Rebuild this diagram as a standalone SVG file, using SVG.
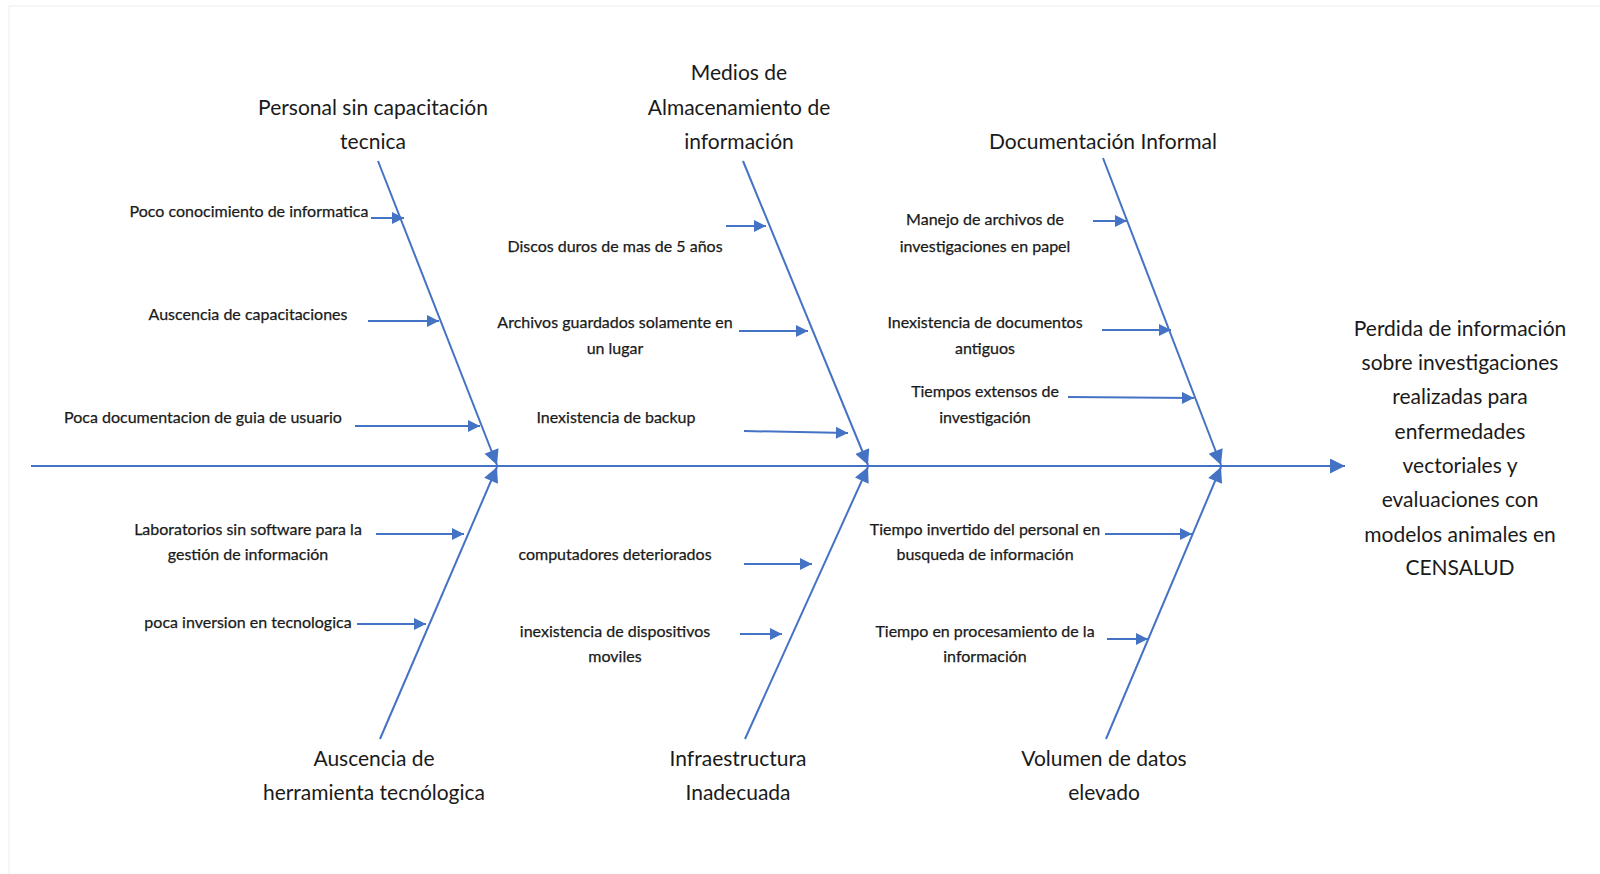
<svg xmlns="http://www.w3.org/2000/svg" width="1600" height="874" viewBox="0 0 1600 874">
  <style>
    .bg { fill: #ffffff; }
    .frame { fill: none; stroke: #f4f4f4; stroke-width: 1.5; }
    .spine { stroke: #4472C4; stroke-width: 2; fill: none; marker-end: url(#headBig); }
    .bone { stroke: #4472C4; stroke-width: 2; fill: none; marker-end: url(#headBig); }
    .sub { stroke: #4472C4; stroke-width: 2; fill: none; marker-end: url(#headSmall); }
    text { font-family: Lato, "Open Sans", "Liberation Sans", sans-serif; fill: #1a1a1a; text-anchor: middle; }
    .cat { font-size: 21px; }
    .cause { font-size: 16px; stroke: #1a1a1a; stroke-width: 0.25; }
    .effect { font-size: 21px; }
  </style>
  <defs>
    <marker id="headBig" viewBox="0 0 10 10" refX="10" refY="5" markerWidth="19" markerHeight="15" markerUnits="userSpaceOnUse" orient="auto">
      <path d="M0,0 L10,5 L0,10 z" fill="#4472C4"/>
    </marker>
    <marker id="headSmall" viewBox="0 0 10 10" refX="10" refY="5" markerWidth="13" markerHeight="12" markerUnits="userSpaceOnUse" orient="auto">
      <path d="M0,0 L10,5 L0,10 z" fill="#4472C4"/>
    </marker>
  </defs>

  <rect class="bg" x="0" y="0" width="1600" height="874"/>
  <rect class="frame" x="9" y="6" width="1600" height="880"/>

  <!-- spine, main bones and cause arrows -->
  <g id="connectors">
    <line class="spine" x1="31" y1="466" x2="1345" y2="466"/>

    <line class="bone" x1="378" y1="161" x2="497" y2="465"/>
    <line class="bone" x1="743" y1="161" x2="868" y2="465"/>
    <line class="bone" x1="1103" y1="158" x2="1221" y2="465"/>
    <line class="bone" x1="380" y1="739" x2="497" y2="467"/>
    <line class="bone" x1="745" y1="739" x2="868" y2="467"/>
    <line class="bone" x1="1106" y1="739" x2="1221" y2="467"/>

    <line class="sub" x1="371" y1="218" x2="404" y2="218"/>
    <line class="sub" x1="368" y1="321" x2="439" y2="321"/>
    <line class="sub" x1="355" y1="426" x2="480" y2="426"/>

    <line class="sub" x1="726" y1="226" x2="766" y2="226"/>
    <line class="sub" x1="739" y1="331" x2="808" y2="331"/>
    <line class="sub" x1="744" y1="431" x2="848" y2="433"/>

    <line class="sub" x1="1093" y1="221" x2="1127" y2="221"/>
    <line class="sub" x1="1102" y1="330" x2="1171" y2="330"/>
    <line class="sub" x1="1068" y1="397" x2="1194" y2="398"/>

    <line class="sub" x1="376" y1="534" x2="464" y2="534"/>
    <line class="sub" x1="357" y1="624" x2="426" y2="624"/>

    <line class="sub" x1="744" y1="564" x2="812" y2="564"/>
    <line class="sub" x1="740" y1="634" x2="782" y2="634"/>

    <line class="sub" x1="1105" y1="534" x2="1192" y2="534"/>
    <line class="sub" x1="1107" y1="639" x2="1148" y2="639"/>
  </g>

  <!-- category: staff without training -->
  <g id="cat-personal">
    <text class="cat" x="373" y="115">Personal sin capacitación</text>
    <text class="cat" x="373" y="149">tecnica</text>
    <text class="cause" x="249" y="217">Poco conocimiento de informatica</text>
    <text class="cause" x="248" y="320">Auscencia de capacitaciones</text>
    <text class="cause" x="203" y="423">Poca documentacion de guia de usuario</text>
  </g>

  <!-- category: storage media -->
  <g id="cat-medios">
    <text class="cat" x="739" y="80">Medios de</text>
    <text class="cat" x="739" y="115">Almacenamiento de</text>
    <text class="cat" x="739" y="149">información</text>
    <text class="cause" x="615" y="252">Discos duros de mas de 5 años</text>
    <text class="cause" x="615" y="328">Archivos guardados solamente en</text>
    <text class="cause" x="615" y="354">un lugar</text>
    <text class="cause" x="616" y="423">Inexistencia de backup</text>
  </g>

  <!-- category: informal documentation -->
  <g id="cat-documentacion">
    <text class="cat" x="1103" y="149">Documentación Informal</text>
    <text class="cause" x="985" y="225">Manejo de archivos de</text>
    <text class="cause" x="985" y="252">investigaciones en papel</text>
    <text class="cause" x="985" y="328">Inexistencia de documentos</text>
    <text class="cause" x="985" y="354">antiguos</text>
    <text class="cause" x="985" y="397">Tiempos extensos de</text>
    <text class="cause" x="985" y="423">investigación</text>
  </g>

  <!-- category: missing technology tools -->
  <g id="cat-herramienta">
    <text class="cat" x="374" y="766">Auscencia de</text>
    <text class="cat" x="374" y="800">herramienta tecnólogica</text>
    <text class="cause" x="248" y="535">Laboratorios sin software para la</text>
    <text class="cause" x="248" y="560">gestión de información</text>
    <text class="cause" x="248" y="628">poca inversion en tecnologica</text>
  </g>

  <!-- category: infrastructure -->
  <g id="cat-infraestructura">
    <text class="cat" x="738" y="766">Infraestructura</text>
    <text class="cat" x="738" y="800">Inadecuada</text>
    <text class="cause" x="615" y="560">computadores deteriorados</text>
    <text class="cause" x="615" y="637">inexistencia de dispositivos</text>
    <text class="cause" x="615" y="662">moviles</text>
  </g>

  <!-- category: data volume -->
  <g id="cat-volumen">
    <text class="cat" x="1104" y="766">Volumen de datos</text>
    <text class="cat" x="1104" y="800">elevado</text>
    <text class="cause" x="985" y="535">Tiempo invertido del personal en</text>
    <text class="cause" x="985" y="560">busqueda de información</text>
    <text class="cause" x="985" y="637">Tiempo en procesamiento de la</text>
    <text class="cause" x="985" y="662">información</text>
  </g>

  <!-- effect at the head of the spine -->
  <g id="effect">
    <text class="effect" x="1460" y="336">Perdida de información</text>
    <text class="effect" x="1460" y="370">sobre investigaciones</text>
    <text class="effect" x="1460" y="404">realizadas para</text>
    <text class="effect" x="1460" y="439">enfermedades</text>
    <text class="effect" x="1460" y="473">vectoriales y</text>
    <text class="effect" x="1460" y="507">evaluaciones con</text>
    <text class="effect" x="1460" y="542">modelos animales en</text>
    <text class="effect" x="1460" y="575">CENSALUD</text>
  </g>
</svg>
